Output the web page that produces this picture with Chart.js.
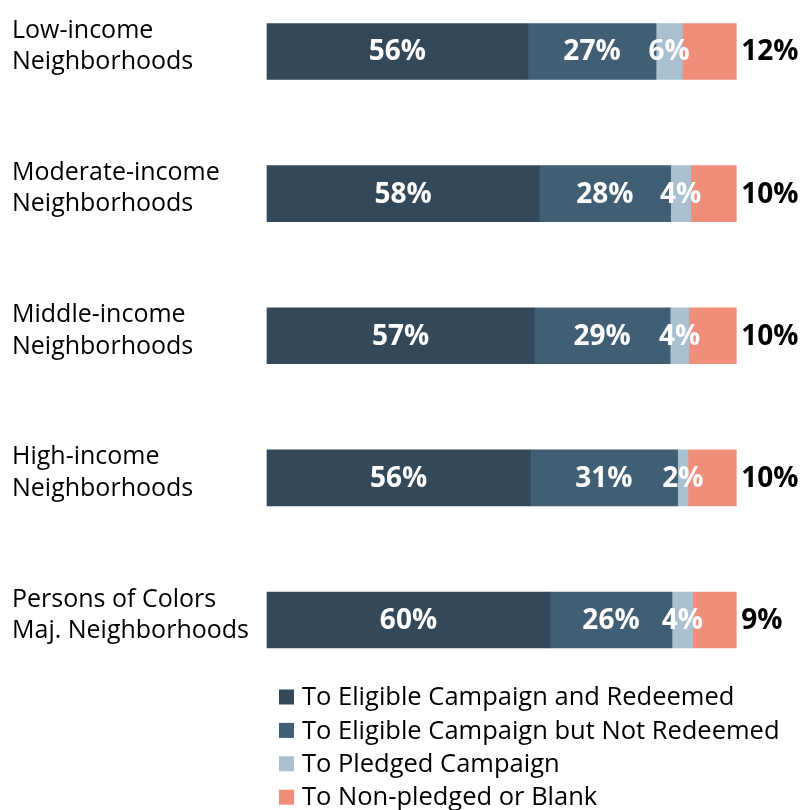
<!DOCTYPE html>
<html><head><meta charset="utf-8">
<script src="https://cdn.jsdelivr.net/npm/chart.js@4.4.1/dist/chart.umd.min.js"></script>
<style>html,body{margin:0;padding:0;background:#fff;}</style>
</head><body>
<canvas id="c" width="804" height="810"></canvas>
<script>
const categories = [
  ['Low-income', 'Neighborhoods'],
  ['Moderate-income', 'Neighborhoods'],
  ['Middle-income', 'Neighborhoods'],
  ['High-income', 'Neighborhoods'],
  ['Persons of Colors', 'Maj. Neighborhoods']
];
const seriesNames = [
  'To Eligible Campaign and Redeemed',
  'To Eligible Campaign but Not Redeemed',
  'To Pledged Campaign',
  'To Non-pledged or Blank'
];
const redeemed    = [55.6, 58.0, 56.9, 56.1, 60.3];
const notRedeemed = [27.3, 28.0, 29.0, 31.4, 26.0];
const pledged     = [5.6, 4.3, 4.0, 2.2, 4.4];
const nonPledged  = [11.5, 9.7, 10.1, 10.3, 9.3];
const colors = ['#334959', '#405f75', '#a9c0d0', '#ee8e7b'];

const FONT = '"Open Sans", "DejaVu Sans", sans-serif';

const valueLabels = {
  id: 'valueLabels',
  afterDatasetsDraw(chart) {
    const ctx = chart.ctx;
    ctx.save();
    ctx.font = 'bold 28px ' + FONT;
    ctx.textBaseline = 'middle';
    const n = chart.data.datasets.length;
    chart.data.datasets.forEach((ds, i) => {
      const meta = chart.getDatasetMeta(i);
      meta.data.forEach((el, j) => {
        const txt = Math.round(ds.data[j]) + '%';
        if (i === n - 1) {
          ctx.fillStyle = '#000';
          ctx.textAlign = 'left';
          ctx.fillText(txt, el.x + 5, el.y + 1);
        } else {
          ctx.fillStyle = '#fff';
          ctx.textAlign = 'center';
          ctx.fillText(txt, (el.x + el.base) / 2, el.y + 1);
        }
      });
    });
    ctx.restore();
  }
};

const bottomLegend = {
  id: 'bottomLegend',
  afterDraw(chart) {
    const ctx = chart.ctx;
    ctx.save();
    ctx.font = '25.5px ' + FONT;
    ctx.textBaseline = 'middle';
    ctx.textAlign = 'left';
    const x0 = 279;
    const y0 = chart.chartArea.bottom + 77;
    chart.data.datasets.forEach((ds, i) => {
      const y = y0 + i * 33.4;
      ctx.fillStyle = ds.backgroundColor;
      ctx.fillRect(x0, y - 7.5, 15, 15);
      ctx.fillStyle = '#000';
      ctx.fillText(ds.label, x0 + 23, y + 1);
    });
    ctx.restore();
  }
};

new Chart(document.getElementById('c'), {
  type: 'bar',
  data: {
    labels: categories,
    datasets: [redeemed, notRedeemed, pledged, nonPledged].map((d, i) => ({
      label: seriesNames[i],
      data: d,
      backgroundColor: colors[i],
      borderWidth: 0,
      barThickness: 56,
      clip: false
    }))
  },
  options: {
    indexAxis: 'y',
    responsive: false,
    animation: false,
    devicePixelRatio: 1,
    layout: { padding: { left: 12, right: 67.7, top: 51.5, bottom: 190 } },
    plugins: { legend: { display: false }, tooltip: { enabled: false } },
    scales: {
      x: { stacked: true, min: 0, max: 100, display: false },
      y: {
        stacked: true,
        offset: false,
        grid: { display: false },
        border: { display: false },
        afterFit(scale) { scale.width = 255; },
        ticks: {
          crossAlign: 'far',
          padding: 0,
          labelOffset: -5,
          color: '#000',
          font: { family: FONT, size: 25, lineHeight: 1.25 }
        }
      }
    }
  },
  plugins: [valueLabels, bottomLegend]
});
</script>
</body></html>
